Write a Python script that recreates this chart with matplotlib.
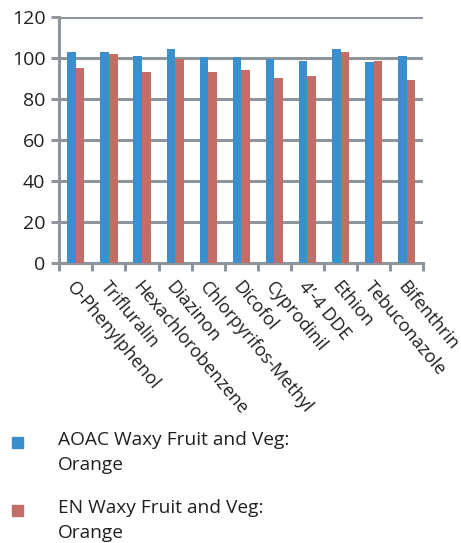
import matplotlib
matplotlib.use("Agg")
import matplotlib.pyplot as plt
import numpy as np
from matplotlib.patches import Rectangle

categories = ["O-Phenylphenol", "Trifluralin", "Hexachlorobenzene", "Diazinon",
              "Chlorpyrifos-Methyl", "Dicofol", "Cyprodinil", "4\u2019-4 DDE",
              "Ethion", "Tebuconazole", "Bifenthrin"]
aoac = [102.6, 102.6, 101.0, 104.1, 100.2, 100.2, 99.4, 98.6, 104.1, 97.8, 101.0]
en = [94.8, 101.8, 93.2, 99.4, 93.2, 94.0, 90.0, 91.0, 102.6, 98.6, 89.4]
series_names = ["AOAC Waxy Fruit and Veg:\nOrange", "EN Waxy Fruit and Veg:\nOrange"]
yticks = [0, 20, 40, 60, 80, 100, 120]

blue = "#3a8fcc"
red = "#c26e67"
grey = "#8e959c"
font = "Open Sans"
plt.rcParams['font.family'] = [font, 'DejaVu Sans']

fig = plt.figure(figsize=(4.61, 5.43), dpi=100)
ax = fig.add_axes([59.3/461, 1-263.3/543, (423.3-59.3)/461, (263.3-16.7)/543])

x = np.arange(len(categories))
w = 0.26
ax.bar(x - w/2, aoac, width=w, color=blue, zorder=3)
ax.bar(x + w/2, en, width=w, color=red, zorder=3)

ax.set_xlim(-0.5, len(categories) - 0.5)
ax.set_ylim(0, 120)
ax.set_yticks(yticks)
ax.set_yticklabels([str(v) for v in yticks], fontsize=14, color="#231f20")
ax.yaxis.grid(True, color=grey, linewidth=2.2, zorder=0)
ax.set_axisbelow(True)
for s in ["top", "right"]:
    ax.spines[s].set_visible(False)
for s in ["left", "bottom"]:
    ax.spines[s].set_color(grey)
    ax.spines[s].set_linewidth(2.2)
ax.tick_params(axis="y", length=6, width=2.2, color=grey, pad=4)
ax.set_xticks(np.arange(len(categories) + 1) - 0.5)
ax.set_xticklabels([])
ax.tick_params(axis="x", length=6, width=2.2, color=grey)

for i, c in enumerate(categories):
    ax.text(i - 0.17, -10, c, rotation=-50, rotation_mode="anchor",
            ha="left", va="center", fontsize=13, color="#231f20",
            transform=ax.transData, clip_on=False)

# legend
for (y0, col, lab) in [(437, blue, series_names[0]), (505, red, series_names[1])]:
    fig.add_artist(Rectangle((12/461, 1-(y0+11)/543), 11/461, 11/543,
                             transform=fig.transFigure, color=col))
    fig.text(58/461, 1-(y0-6)/543, lab, ha="left", va="top", fontsize=13.8,
             color="#231f20", linespacing=1.5)

fig.savefig("out.png", dpi=100)
